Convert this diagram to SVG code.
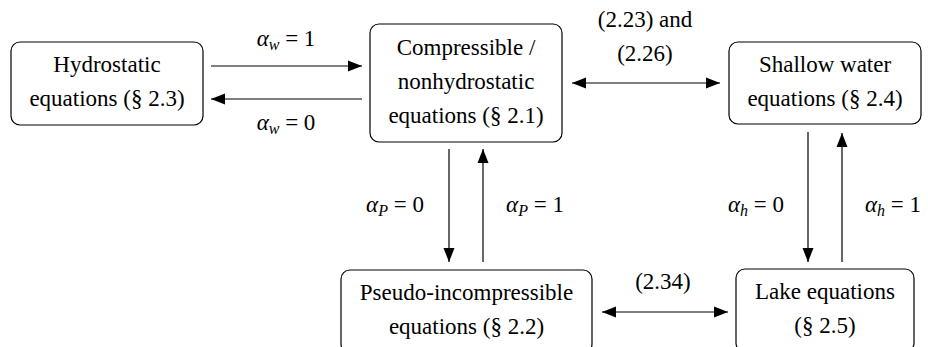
<svg xmlns="http://www.w3.org/2000/svg" width="928" height="347" viewBox="0 0 928 347">
<style>
.box{fill:#fff;stroke:#000;stroke-width:1.2}
.conn{stroke:#000;stroke-width:1.2}
</style>
<defs>
<marker id="ah" markerUnits="userSpaceOnUse" markerWidth="14" markerHeight="12" refX="14" refY="6" orient="auto-start-reverse">
<path d="M0,0.5 L14,6 L0,11.5 z" fill="#000"/>
</marker>
</defs>
<g id="hydrostatic">
<rect class="box" x="11" y="42" width="192" height="83" rx="9"/>
<text x="107" y="72" font-family="Times New Roman" font-size="23" text-anchor="middle">Hydrostatic</text>
<text x="107" y="106" font-family="Times New Roman" font-size="23" text-anchor="middle">equations (§ 2.3)</text>
</g>
<g id="compressible">
<rect class="box" x="370" y="24" width="192" height="118" rx="9"/>
<text x="466" y="55" font-family="Times New Roman" font-size="23" text-anchor="middle">Compressible /</text>
<text x="466" y="89" font-family="Times New Roman" font-size="23" text-anchor="middle">nonhydrostatic</text>
<text x="466" y="123" font-family="Times New Roman" font-size="23" text-anchor="middle">equations (§ 2.1)</text>
</g>
<g id="shallow">
<rect class="box" x="729" y="42" width="192" height="82" rx="9"/>
<text x="825" y="72" font-family="Times New Roman" font-size="23" text-anchor="middle">Shallow water</text>
<text x="825" y="106" font-family="Times New Roman" font-size="23" text-anchor="middle">equations (§ 2.4)</text>
</g>
<g id="pseudo">
<rect class="box" x="341" y="270" width="251" height="83" rx="9"/>
<text x="466.5" y="300" font-family="Times New Roman" font-size="23" text-anchor="middle">Pseudo-incompressible</text>
<text x="466.5" y="334" font-family="Times New Roman" font-size="23" text-anchor="middle">equations (§ 2.2)</text>
</g>
<g id="lake">
<rect class="box" x="736" y="269" width="178" height="83" rx="9"/>
<text x="825" y="299" font-family="Times New Roman" font-size="23" text-anchor="middle">Lake equations</text>
<text x="825" y="333" font-family="Times New Roman" font-size="23" text-anchor="middle">(§ 2.5)</text>
</g>
<g id="connectors">
<line class="conn" x1="211" y1="66" x2="362" y2="66" marker-end="url(#ah)"/>
<line class="conn" x1="362" y1="99" x2="211" y2="99" marker-end="url(#ah)"/>
<line class="conn" x1="572" y1="83" x2="720" y2="83" marker-start="url(#ah)" marker-end="url(#ah)"/>
<line class="conn" x1="449" y1="149" x2="449" y2="262" marker-end="url(#ah)"/>
<line class="conn" x1="483" y1="262" x2="483" y2="149" marker-end="url(#ah)"/>
<line class="conn" x1="808" y1="132" x2="808" y2="262" marker-end="url(#ah)"/>
<line class="conn" x1="842" y1="262" x2="842" y2="133" marker-end="url(#ah)"/>
<line class="conn" x1="602" y1="312" x2="728" y2="312" marker-start="url(#ah)" marker-end="url(#ah)"/>
</g>
<g id="labels">
<text x="286" y="46" font-family="Times New Roman" font-size="23" text-anchor="middle"><tspan font-style="italic">α</tspan><tspan font-style="italic" font-size="16" dy="4">w</tspan><tspan dy="-4"> = 1</tspan></text>
<text x="286" y="130" font-family="Times New Roman" font-size="23" text-anchor="middle"><tspan font-style="italic">α</tspan><tspan font-style="italic" font-size="16" dy="4">w</tspan><tspan dy="-4"> = 0</tspan></text>
<text x="645" y="27" font-family="Times New Roman" font-size="23" text-anchor="middle">(2.23) and</text>
<text x="645" y="61" font-family="Times New Roman" font-size="23" text-anchor="middle">(2.26)</text>
<text x="395" y="212" font-family="Times New Roman" font-size="23" text-anchor="middle"><tspan font-style="italic">α</tspan><tspan font-style="italic" font-size="16" dy="4">P</tspan><tspan dy="-4"> = 0</tspan></text>
<text x="535" y="212" font-family="Times New Roman" font-size="23" text-anchor="middle"><tspan font-style="italic">α</tspan><tspan font-style="italic" font-size="16" dy="4">P</tspan><tspan dy="-4"> = 1</tspan></text>
<text x="756" y="212" font-family="Times New Roman" font-size="23" text-anchor="middle"><tspan font-style="italic">α</tspan><tspan font-style="italic" font-size="16" dy="4">h</tspan><tspan dy="-4"> = 0</tspan></text>
<text x="893" y="212" font-family="Times New Roman" font-size="23" text-anchor="middle"><tspan font-style="italic">α</tspan><tspan font-style="italic" font-size="16" dy="4">h</tspan><tspan dy="-4"> = 1</tspan></text>
<text x="663" y="289" font-family="Times New Roman" font-size="23" text-anchor="middle">(2.34)</text>
</g>
</svg>
